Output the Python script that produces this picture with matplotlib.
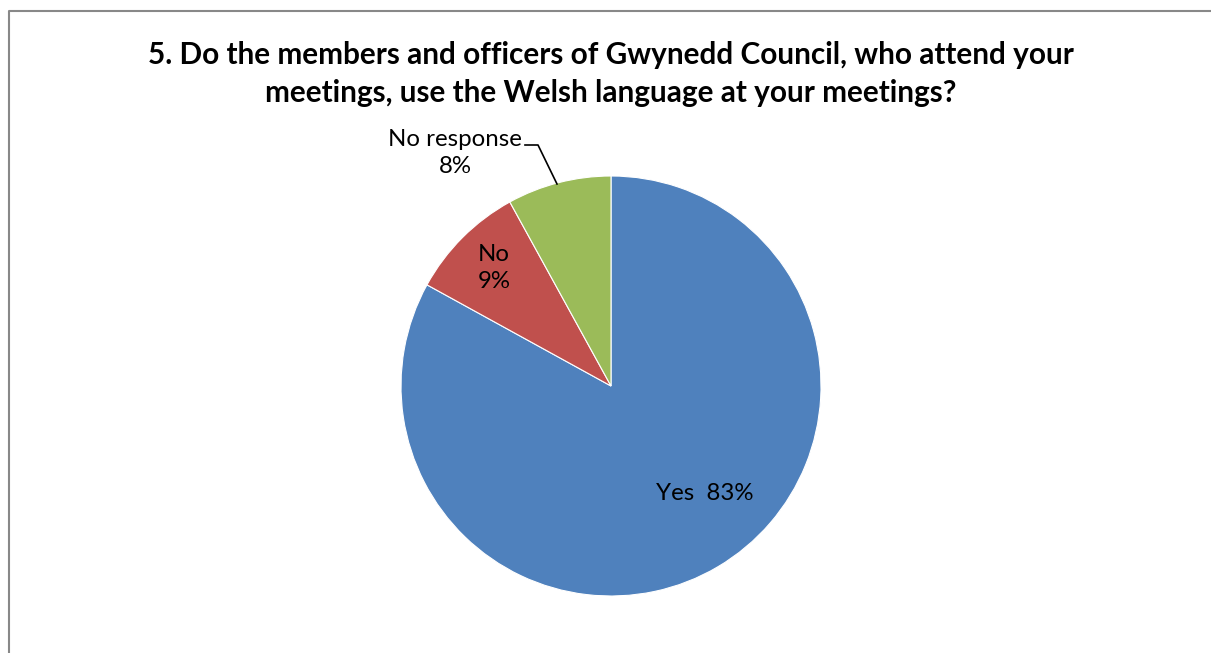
import matplotlib.pyplot as plt
from matplotlib.lines import Line2D

# Survey answers (percent)
labels = ['Yes', 'No', 'No response']
shares = [83, 9, 8]
colors = ['#4F81BD', '#C0504D', '#9BBB59']
title = ('5. Do the members and officers of Gwynedd Council, who attend your\n'
         'meetings, use the Welsh language at your meetings?')

W, H = 1211, 653
fig = plt.figure(figsize=(W / 100, H / 100), dpi=100)
ax = fig.add_axes([0, 0, 1, 1])
ax.set_xlim(0, W)
ax.set_ylim(0, H)
ax.set_aspect('equal')
ax.axis('off')

# pie in pixel units, y measured from the bottom
cx, cy, r = 611, H - 386, 210
wedges, _ = ax.pie(shares, colors=colors, startangle=90, counterclock=False,
                   center=(cx, cy), radius=r,
                   wedgeprops=dict(edgecolor='white', linewidth=0.8))
ax.set_xlim(0, W)
ax.set_ylim(0, H)

lab_fs = 17.3
ax.text(705, H - 493, f'{labels[0]}  {shares[0]}%', fontsize=lab_fs,
        family='Lato', ha='center', va='center', color='black')
ax.text(494, H - 268, f'{labels[1]}\n{shares[1]}%', fontsize=lab_fs,
        family='Lato', ha='center', va='center', color='black', linespacing=1.35)
ax.text(455, H - 153, f'{labels[2]}\n{shares[2]}%', fontsize=lab_fs,
        family='Lato', ha='center', va='center', color='black', linespacing=1.35)

# leader line for the small slice
ax.add_line(Line2D([525, 538, 557], [H - 145, H - 145, H - 184],
                   color='black', linewidth=1.2))

ax.text(611, H - 74, title, fontsize=21.4, fontweight='bold', family='Lato',
        ha='center', va='center', linespacing=1.4)

# chart frame (top and left edges visible)
ax.add_line(Line2D([8.5, 8.5, W], [0, H - 11, H - 11], color='#888888',
                   linewidth=1.5))

fig.savefig('out.png', dpi=100)
